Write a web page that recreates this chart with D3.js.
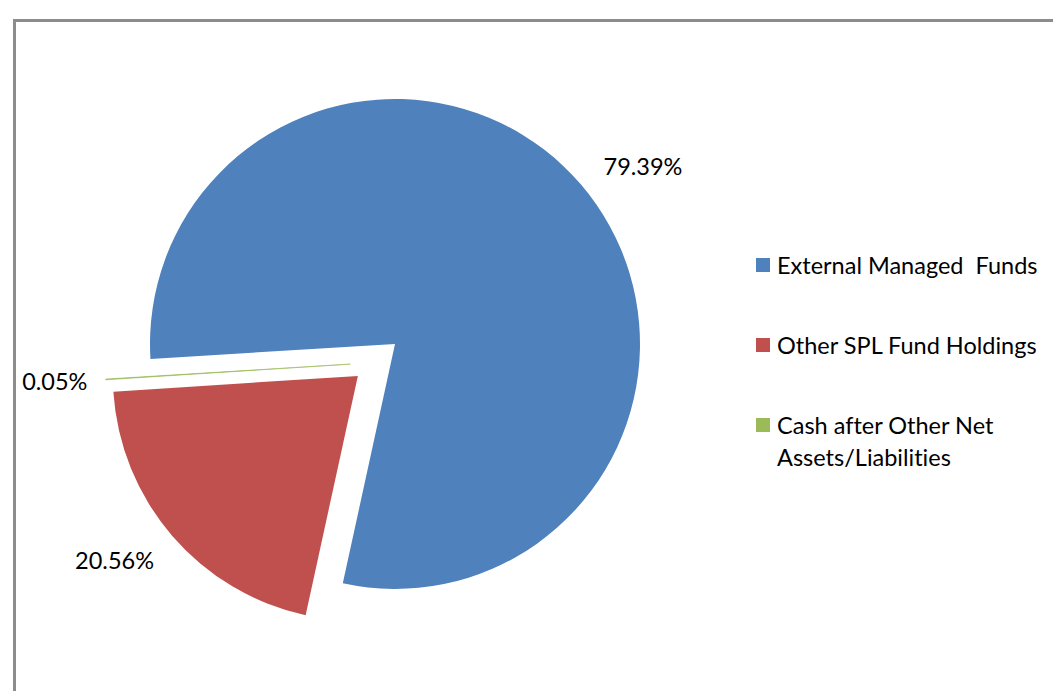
<!DOCTYPE html>
<html>
<head>
<meta charset="utf-8">
<script src="https://cdn.jsdelivr.net/npm/d3@7"></script>
<style>
  body { margin: 0; background: #fff; }
  text { font-variant-ligatures: none; }
</style>
</head>
<body>
<div id="chart"></div>
<script>
var categories = ["External Managed  Funds", "Other SPL Fund Holdings", "Cash after Other Net Assets/Liabilities"];
var legendLines = [["External Managed  Funds"], ["Other SPL Fund Holdings"], ["Cash after Other Net", "Assets/Liabilities"]];
var values = [79.39, 20.56, 0.05];
var valueLabels = ["79.39%", "20.56%", "0.05%"];
var colors = ["#4f81bd", "#c0504d", "#9bbb59"];

var svgWidth = 1053,
	svgHeight = 691,
	cx = 395,
	cy = 344,
	radius = 245;

// first slice angle ~266.5 deg, clockwise like excel
var start = 266.5 * Math.PI / 180;
var explode = [0, 49, 49];
// excel nudges outside-end labels a little off the mid angle
var labelShift = [5, 3.6, 0.3];
var labelDist = [305, 305, 296];

var svg = d3.select('#chart')
	.append('svg')
	.attr('width', svgWidth)
	.attr('height', svgHeight);

// chart area frame, runs off the right and bottom edge
svg.append('rect')
	.attr('x', 14.5)
	.attr('y', 20.5)
	.attr('width', 1200)
	.attr('height', 800)
	.attr('fill', 'none')
	.attr('stroke', '#8c8c8c')
	.attr('stroke-width', 3);

var pie = d3.pie()
	.sort(null)
	.startAngle(start)
	.endAngle(start + 2 * Math.PI);

var arcs = pie(values);

var arc = d3.arc().innerRadius(0).outerRadius(radius);

function pullAngle(d, i) {
	var mid = (d.startAngle + d.endAngle) / 2;
	// the thin cash slice sits a bit lower in the original
	if (i === 2) mid -= 0.36;
	return mid;
}

var slices = svg.append('g')
	.attr('id', 'slices');

arcs.forEach(function(d, i) {
	var a = pullAngle(d, i);
	var dx = cx + explode[i] * Math.sin(a),
		dy = cy - explode[i] * Math.cos(a);

	var g = slices.append('g')
		.attr('transform', 'translate(' + dx + ',' + dy + ')');

	g.append('path')
		.attr('d', arc(d))
		.attr('fill', colors[i])
		.attr('stroke', i === 2 ? colors[i] : 'none')
		.attr('stroke-width', i === 2 ? 0.6 : 0);

	var la = (d.startAngle + d.endAngle) / 2 + labelShift[i] * Math.PI / 180;
	var lx = labelDist[i] * Math.sin(la),
		ly = -labelDist[i] * Math.cos(la);

	g.append('text')
		.text(valueLabels[i])
		.attr('x', lx)
		.attr('y', ly)
		.attr('text-anchor', 'middle')
		.attr('dominant-baseline', 'central')
		.attr('font-family', 'Lato, sans-serif')
		.attr('font-size', '23.5px')
		.attr('fill', '#000');
});

var legend = svg.append('g')
	.attr('id', 'legend')
	.attr('transform', 'translate(756,0)');

var legendY = [265, 345, 425];

categories.forEach(function(name, i) {
	legend.append('rect')
		.attr('x', 0)
		.attr('y', legendY[i] - 7)
		.attr('width', 14)
		.attr('height', 14)
		.attr('fill', colors[i]);

	legendLines[i].forEach(function(line, j) {
		legend.append('text')
			.text(line)
			.attr('x', 21)
			.attr('y', legendY[i] + j * 32)
			.attr('dominant-baseline', 'central')
			.attr('font-family', 'Lato, sans-serif')
			.attr('font-size', '23.5px')
			.attr('fill', '#000')
			.style('white-space', 'pre');
	});
});
</script>
</body>
</html>
